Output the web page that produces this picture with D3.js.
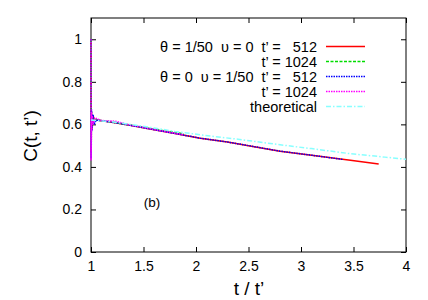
<!DOCTYPE html>
<html lang="en">
<head>
<meta charset="utf-8" />
<title>C(t, t') vs t / t'</title>
<script src="https://cdn.jsdelivr.net/npm/d3@7/dist/d3.min.js"></script>
<style>
  body { margin: 0; background: #fff; }
  svg { display: block; font-family: "Liberation Sans", Arial, sans-serif; }
  .tick-label { font-size: 14px; fill: #000; }
  .axis-title { font-size: 19px; fill: #000; }
  .legend text { font-size: 14.5px; fill: #000; white-space: pre; }
</style>
</head>
<body>
<div id="chart"></div>
<script>
// ---- data ----
const xTicks = [1, 1.5, 2, 2.5, 3, 3.5, 4];
const yTicks = [0, 0.2, 0.4, 0.6, 0.8, 1];

// theta = 1/50, upsilon = 0, t' = 512
const redX = [1, 1.002, 1.005, 1.01, 1.02, 1.03, 1.05, 1.1, 1.2, 1.37, 1.6, 1.8, 2.04, 2.3, 2.5, 2.8, 3.1, 3.47, 3.74];
const redY = [1.0, 0.47, 0.66, 0.58, 0.64, 0.625, 0.62, 0.617, 0.61, 0.596, 0.575, 0.557, 0.535, 0.517, 0.5, 0.474, 0.455, 0.431, 0.414];
// theta = 1/50, upsilon = 0, t' = 1024
const greenX = [1, 1.001, 1.003, 1.006, 1.012, 1.02, 1.04, 1.1, 1.2, 1.37, 1.6, 1.75, 1.88];
const greenY = [1.0, 0.5, 0.65, 0.59, 0.635, 0.615, 0.622, 0.618, 0.611, 0.597, 0.577, 0.566, 0.556];
// theta = 0, upsilon = 1/50, t' = 512
const blueX = [1, 1.002, 1.005, 1.01, 1.02, 1.03, 1.05, 1.1, 1.2, 1.37, 1.6, 1.8, 2.04, 2.3, 2.5, 2.8, 3.1, 3.4];
const blueY = [1.0, 0.44, 0.67, 0.57, 0.645, 0.6, 0.62, 0.617, 0.61, 0.596, 0.575, 0.557, 0.535, 0.517, 0.5, 0.474, 0.455, 0.435];
// theta = 0, upsilon = 1/50, t' = 1024
const magentaX = [1, 1.0005, 1.003, 1.006, 1.012, 1.02, 1.04, 1.1, 1.23, 1.37, 1.6, 1.75, 1.88];
const magentaY = [1.0, 0.43, 0.66, 0.57, 0.64, 0.6, 0.63, 0.618, 0.615, 0.597, 0.576, 0.563, 0.552];
// theoretical
const theoX = [1, 1.2, 1.37, 1.6, 1.8, 2.04, 2.4, 2.8, 3.1, 3.47, 3.8, 4];
const theoY = [0.62, 0.612, 0.6, 0.583, 0.567, 0.551, 0.53, 0.504, 0.486, 0.462, 0.446, 0.436];

const legendLabels = [
  "θ = 1/50  υ = 0  t’ =   512",
  "t’ = 1024",
  "θ = 0  υ = 1/50  t’ =   512",
  "t’ = 1024",
  "theoretical"
];

const series = [
  { xs: redX, ys: redY, color: "#ff0000", dash: null },
  { xs: greenX, ys: greenY, color: "#00dd00", dash: "3,1.5" },
  { xs: blueX, ys: blueY, color: "#0000ff", dash: "1.5,1" },
  { xs: magentaX, ys: magentaY, color: "#ff00ff", dash: "1.5,1" },
  { xs: theoX, ys: theoY, color: "#88ffff", dash: "5,2,1.5,2" }
];

// ---- layout ----
const W = 428, H = 300;
const mLeft = 91, mRight = 406, mTop = 18, mBottom = 252;
const tickLen = 5;

const x = d3.scaleLinear().domain([1, 4]).range([mLeft, mRight]);
const y = d3.scaleLinear().domain([0, 1.1]).range([mBottom, mTop]);

const svg = d3.select('#chart').append('svg').attr('width', W).attr('height', H);

svg.append('defs').append('clipPath').attr('id', 'clip')
  .append('rect').attr('x', mLeft - 1).attr('y', mTop).attr('width', mRight - mLeft + 1).attr('height', mBottom - mTop);

/* ---- ticks (inward, mirrored like gnuplot) ---- */
const axB = svg.append('g').attr('transform', `translate(0,${mBottom})`)
  .call(d3.axisBottom(x).tickValues(xTicks).tickSizeInner(-tickLen).tickSizeOuter(0).tickPadding(9).tickFormat(d3.format('')));
const axT = svg.append('g').attr('transform', `translate(0,${mTop})`)
  .call(d3.axisTop(x).tickValues(xTicks).tickSizeInner(-tickLen).tickSizeOuter(0).tickFormat(''));
const axL = svg.append('g').attr('transform', `translate(${mLeft},0)`)
  .call(d3.axisLeft(y).tickValues(yTicks).tickSizeInner(-tickLen).tickSizeOuter(0).tickPadding(9).tickFormat(d3.format('')));
const axR = svg.append('g').attr('transform', `translate(${mRight},0)`)
  .call(d3.axisRight(y).tickValues(yTicks).tickSizeInner(-tickLen).tickSizeOuter(0).tickFormat(''));

[axB, axT, axL, axR].forEach(a => {
  a.select('.domain').remove();
  a.attr('font-family', null).attr('font-size', null);
  a.selectAll('line').attr('stroke', '#000');
  a.selectAll('text').attr('class', 'tick-label');
});

/* ---- frame ---- */
svg.append('rect').attr('x', mLeft).attr('y', mTop).attr('width', mRight - mLeft).attr('height', mBottom - mTop)
  .attr('fill', 'none').attr('stroke', '#000').attr('stroke-width', 1);

/* ---- curves ---- */
const line = d3.line().x(d => x(d[0])).y(d => y(d[1]));
const gLines = svg.append('g').attr('clip-path', 'url(#clip)');
series.forEach(s => {
  gLines.append('path')
    .datum(s.xs.map((v, i) => [v, s.ys[i]]))
    .attr('d', line)
    .attr('fill', 'none')
    .attr('stroke', s.color)
    .attr('stroke-width', 1.5)
    .attr('stroke-dasharray', s.dash);
});

/* ---- legend ---- */
const leg = svg.append('g').attr('class', 'legend');
const legTextX = 317, legLineX0 = 326, legLineX1 = 365, legY0 = 46.5, legDy = 15;
series.forEach((s, i) => {
  const yy = legY0 + i * legDy;
  leg.append('text').attr('x', legTextX).attr('y', yy).attr('dy', '0.35em')
    .attr('text-anchor', 'end').text(legendLabels[i]);
  leg.append('line').attr('x1', legLineX0).attr('x2', legLineX1).attr('y1', yy).attr('y2', yy)
    .attr('stroke', s.color).attr('stroke-width', 1.5).attr('stroke-dasharray', s.dash);
});

/* ---- labels ---- */
svg.append('text').attr('class', 'axis-title').attr('x', 249).attr('y', 288).attr('dy', '0.35em')
  .attr('text-anchor', 'middle').text('t / t’');
svg.append('text').attr('class', 'axis-title')
  .attr('transform', 'translate(30,136) rotate(-90)').attr('dy', '0.35em')
  .attr('text-anchor', 'middle').text('C(t, t’)');
svg.append('text').attr('x', 152).attr('y', 202).attr('dy', '0.35em').attr('text-anchor', 'middle')
  .attr('font-size', 13.5).text('(b)');
</script>
</body>
</html>
